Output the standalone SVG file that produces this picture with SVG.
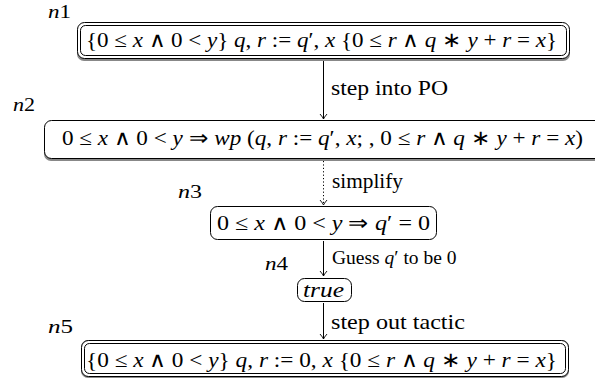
<svg xmlns="http://www.w3.org/2000/svg" width="595" height="381" viewBox="0 0 595 381">
<style>
.t{font-family:'Liberation Serif','Times New Roman',serif;font-size:21px;fill:#000}
.lb{font-size:19px}
.s{font-size:19.5px}
.i{font-style:italic}
.box{fill:#fff;stroke:#000;stroke-width:1}
.sh{fill:#888;stroke:none}
.edge{fill:none;stroke:#000;stroke-width:1}
.dot{stroke-dasharray:1.2 2.2}
</style>
<defs>
<marker id="ah" viewBox="-6 -5 8 10" refX="0" refY="0" markerWidth="8" markerHeight="10" markerUnits="userSpaceOnUse" orient="auto">
<path d="M-5,-3.5 Q-1.5,-0.5 0,0 Q-1.5,0.5 -5,3.5" fill="none" stroke="#000" stroke-width="0.9"/>
</marker>
</defs>
<g id="edges">
<line class="edge" x1="323.5" y1="61" x2="323.5" y2="119" marker-end="url(#ah)"/>
<line class="edge dot" x1="323.5" y1="161" x2="323.5" y2="205" marker-end="url(#ah)"/>
<line class="edge" x1="323.5" y1="241" x2="323.5" y2="276" marker-end="url(#ah)"/>
<line class="edge" x1="323.5" y1="303" x2="323.5" y2="339" marker-end="url(#ah)"/>
<text class="t" x="331" y="95" textLength="117" lengthAdjust="spacingAndGlyphs">step into PO</text>
<text class="t" x="332" y="188" textLength="71" lengthAdjust="spacingAndGlyphs">simplify</text>
<text class="t s" x="332" y="264">Guess <tspan class="i">q</tspan>′ to be 0</text>
<text class="t" x="331" y="329" textLength="134" lengthAdjust="spacingAndGlyphs">step out tactic</text>
</g>
<g id="n1">
<text class="t lb" x="48" y="18" textLength="23" lengthAdjust="spacingAndGlyphs"><tspan class="i">n</tspan>1</text>
<rect class="sh" x="77" y="24" width="493" height="37" rx="7"/>
<rect class="box" x="77.5" y="22.5" width="492" height="36" rx="7"/>
<rect class="box" x="80.5" y="25.5" width="486" height="30" rx="5"/>
<text class="t" x="86" y="47" textLength="471" lengthAdjust="spacingAndGlyphs">{0 ≤ <tspan class="i">x</tspan> ∧ 0 &lt; <tspan class="i">y</tspan>} <tspan class="i">q</tspan>, <tspan class="i">r</tspan> := <tspan class="i">q</tspan>′, <tspan class="i">x</tspan> {0 ≤ <tspan class="i">r</tspan> ∧ <tspan class="i">q</tspan> ∗ <tspan class="i">y</tspan> + <tspan class="i">r</tspan> = <tspan class="i">x</tspan>}</text>
</g>
<g id="n2">
<text class="t lb" x="13" y="111" textLength="22" lengthAdjust="spacingAndGlyphs"><tspan class="i">n</tspan>2</text>
<rect class="sh" x="44" y="122" width="570" height="39" rx="7"/>
<rect class="box" x="44.5" y="120.5" width="570" height="38" rx="7"/>
<text class="t" x="62" y="145" textLength="521" lengthAdjust="spacingAndGlyphs">0 ≤ <tspan class="i">x</tspan> ∧ 0 &lt; <tspan class="i">y</tspan> ⇒ <tspan class="i">wp</tspan> (<tspan class="i">q</tspan>, <tspan class="i">r</tspan> := <tspan class="i">q</tspan>′, <tspan class="i">x</tspan>; , 0 ≤ <tspan class="i">r</tspan> ∧ <tspan class="i">q</tspan> ∗ <tspan class="i">y</tspan> + <tspan class="i">r</tspan> = <tspan class="i">x</tspan>)</text>
</g>
<g id="n3">
<text class="t lb" x="178" y="198" textLength="24" lengthAdjust="spacingAndGlyphs"><tspan class="i">n</tspan>3</text>
<rect class="box" x="210.5" y="206.5" width="226" height="33" rx="7"/>
<text class="t" x="217" y="230" textLength="213" lengthAdjust="spacingAndGlyphs">0 ≤ <tspan class="i">x</tspan> ∧ 0 &lt; <tspan class="i">y</tspan> ⇒ <tspan class="i">q</tspan>′ = 0</text>
</g>
<g id="n4">
<text class="t lb" x="265" y="270" textLength="23" lengthAdjust="spacingAndGlyphs"><tspan class="i">n</tspan>4</text>
<rect class="box" x="297.5" y="278.5" width="54" height="23" rx="7"/>
<text class="t i" x="303" y="297" textLength="41" lengthAdjust="spacingAndGlyphs">true</text>
</g>
<g id="n5">
<text class="t lb" x="48" y="333" textLength="25" lengthAdjust="spacingAndGlyphs"><tspan class="i">n</tspan>5</text>
<rect class="sh" x="81" y="340" width="488" height="38" rx="7"/>
<rect class="box" x="81.5" y="340.5" width="487" height="36" rx="7"/>
<rect class="box" x="84.5" y="343.5" width="481" height="30" rx="5"/>
<text class="t" x="86" y="367" textLength="471" lengthAdjust="spacingAndGlyphs">{0 ≤ <tspan class="i">x</tspan> ∧ 0 &lt; <tspan class="i">y</tspan>} <tspan class="i">q</tspan>, <tspan class="i">r</tspan> := 0, <tspan class="i">x</tspan> {0 ≤ <tspan class="i">r</tspan> ∧ <tspan class="i">q</tspan> ∗ <tspan class="i">y</tspan> + <tspan class="i">r</tspan> = <tspan class="i">x</tspan>}</text>
</g>
</svg>
